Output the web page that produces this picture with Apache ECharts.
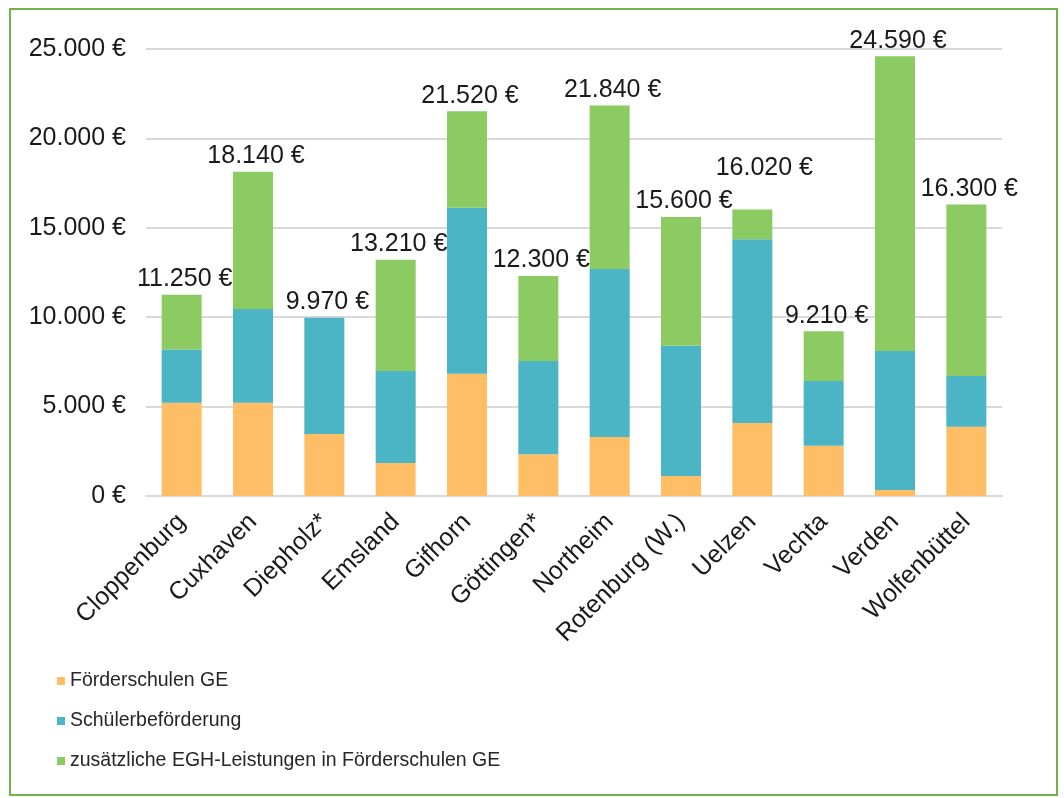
<!DOCTYPE html>
<html>
<head>
<meta charset="utf-8">
<script src="https://cdn.jsdelivr.net/npm/echarts@6/dist/echarts.min.js"></script>
<style>html,body{margin:0;padding:0;background:#fff}#c{width:1064px;height:798px}</style>
</head>
<body>
<div id="c"></div>
<script>
const categories = ['Cloppenburg','Cuxhaven','Diepholz*','Emsland','Gifhorn','Göttingen*','Northeim','Rotenburg (W.)','Uelzen','Vechta','Verden','Wolfenbüttel'];
const foerderschulen = [5220,5220,3470,1850,6840,2330,3300,1120,4080,2810,340,3880];
const schuelerbefoerderung = [2980,5240,6500,5140,9280,5220,9400,7290,10280,3620,7770,2830];
const zusaetzliche = [3050,7680,0,6220,5400,4750,9140,7190,1660,2780,16480,9590];
const totals = [11250,18140,9970,13210,21520,12300,21840,15600,16020,9210,24590,16300];
const yTicks = [0,5000,10000,15000,20000,25000];

function eur(v){ return String(v).replace(/\B(?=(\d{3})+(?!\d))/g,'.') + ' €'; }

const chart = echarts.init(document.getElementById('c'));
const font = 'Liberation Sans, Arial, sans-serif';
const seriesNames = ['Förderschulen GE','Schülerbeförderung','zusätzliche EGH-Leistungen in Förderschulen GE'];
const colors = ['#FFBD66','#4BB4C5','#8BCB62'];
const data = [foerderschulen, schuelerbefoerderung, zusaetzliche];

function topSeriesData(d){
  return d.map((v,idx)=>{
    // Uelzen's label was lifted in the original to avoid overlapping its neighbour
    if (categories[idx]==='Uelzen') return {value:v,label:{offset:[12,-26]}};
    return v;
  });
}

chart.setOption({
  animation:false,
  textStyle:{fontFamily:font},
  graphic:[{type:'rect',shape:{x:10,y:9,width:1047,height:786},style:{fill:'none',stroke:'#76B04B',lineWidth:2},silent:true}],
  grid:{left:146,right:62,top:49,bottom:302,containLabel:false},
  legend:{
    orient:'vertical',left:52,top:666,itemWidth:8,itemHeight:8,itemGap:20,
    icon:'rect',
    textStyle:{fontSize:19.5,color:'#262626',fontFamily:font},
    data:seriesNames
  },
  xAxis:{
    type:'category',data:categories,
    axisTick:{show:false},
    axisLine:{lineStyle:{color:'#d9d9d9',width:2}},
    axisLabel:{rotate:45,fontSize:25,color:'#1a1a1a',margin:22,interval:0,fontFamily:font}
  },
  yAxis:{
    type:'value',min:yTicks[0],max:yTicks[yTicks.length-1],interval:5000,
    axisLine:{show:false},axisTick:{show:false},
    splitLine:{lineStyle:{color:'#d9d9d9',width:2}},
    axisLabel:{fontSize:25,color:'#1a1a1a',margin:20,formatter:eur,fontFamily:font}
  },
  series:data.map((d,i)=>({
    name:seriesNames[i],type:'bar',stack:'t',data: i===2 ? topSeriesData(d) : d,barWidth:40,
    itemStyle:{color:colors[i]},
    label: i===2 ? {show:true,position:'top',distance:3,offset:[3,0],fontSize:25,color:'#1a1a1a',fontFamily:font,
      formatter:p=>eur(totals[p.dataIndex])} : {show:false}
  }))
});
</script>
</body>
</html>
